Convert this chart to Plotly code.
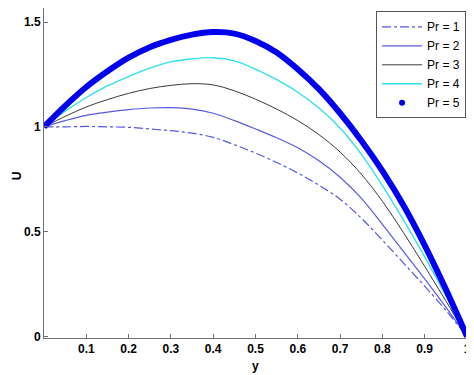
import plotly.graph_objects as go

y_pos = [0.0, 0.05, 0.1, 0.15, 0.2, 0.25, 0.3, 0.35, 0.4, 0.45, 0.5,
         0.55, 0.6, 0.65, 0.7, 0.75, 0.8, 0.85, 0.9, 0.95, 1.0]

u_pr1 = [1.0, 1.0, 1.002, 1.0, 0.998, 0.99, 0.982, 0.97, 0.95, 0.915, 0.875,
         0.83, 0.78, 0.722, 0.655, 0.565, 0.46, 0.35, 0.24, 0.125, 0.0]
u_pr2 = [1.0, 1.03, 1.055, 1.07, 1.082, 1.09, 1.092, 1.085, 1.065, 1.03, 0.99,
         0.948, 0.9, 0.838, 0.76, 0.66, 0.535, 0.405, 0.275, 0.14, 0.0]
u_pr3 = [1.0, 1.05, 1.095, 1.13, 1.16, 1.183, 1.198, 1.206, 1.2, 1.172, 1.132,
         1.085, 1.03, 0.963, 0.88, 0.775, 0.645, 0.495, 0.335, 0.17, 0.0]
u_pr4 = [1.0, 1.075, 1.14, 1.195, 1.24, 1.28, 1.31, 1.325, 1.33, 1.315, 1.275,
         1.225, 1.165, 1.09, 0.995, 0.87, 0.72, 0.555, 0.38, 0.195, 0.0]
u_pr5 = [1.0, 1.10, 1.19, 1.265, 1.33, 1.38, 1.415, 1.44, 1.452, 1.445, 1.41,
         1.355, 1.275, 1.18, 1.065, 0.935, 0.79, 0.625, 0.435, 0.225, 0.0]

series_names = ["Pr = 1", "Pr = 2", "Pr = 3", "Pr = 4", "Pr = 5"]
x_ticks = [0.1, 0.2, 0.3, 0.4, 0.5, 0.6, 0.7, 0.8, 0.9, 1.0]
x_tick_labels = ["0.1", "0.2", "0.3", "0.4", "0.5", "0.6", "0.7", "0.8", "0.9", "1"]
y_ticks = [0, 0.5, 1, 1.5]
y_tick_labels = ["0", "0.5", "1", "1.5"]

FONT = "Liberation Sans, Arial, sans-serif"

fig = go.Figure()
fig.add_trace(go.Scatter(x=y_pos, y=u_pr1, mode="lines", name=series_names[0],
                         line=dict(color="#5555e8", width=1.2, dash="dashdot", shape="spline")))
fig.add_trace(go.Scatter(x=y_pos, y=u_pr2, mode="lines", name=series_names[1],
                         line=dict(color="#5a5ae0", width=1.2, shape="spline")))
fig.add_trace(go.Scatter(x=y_pos, y=u_pr3, mode="lines", name=series_names[2],
                         line=dict(color="#3a3a3a", width=1.0, shape="spline")))
fig.add_trace(go.Scatter(x=y_pos, y=u_pr4, mode="lines", name=series_names[3],
                         line=dict(color="#33e0e8", width=1.4, shape="spline")))
fig.add_trace(go.Scatter(x=y_pos, y=u_pr5, mode="lines", name=series_names[4],
                         showlegend=False, legendgroup="pr5",
                         line=dict(color="#0000ee", width=6, shape="spline")))
# legend entry for Pr = 5 (dot marker style)
fig.add_trace(go.Scatter(x=[None], y=[None], mode="markers", name=series_names[4],
                         legendgroup="pr5",
                         marker=dict(color="#0000ee", size=6)))

# The page body adds an 8px offset, so the figure is 8px smaller on each axis
fig.update_layout(
    width=466, height=367,
    margin=dict(l=36, r=7, t=0, b=37),
    paper_bgcolor="white", plot_bgcolor="white",
    font=dict(family=FONT, size=12, color="black"),
    showlegend=True,
    legend=dict(x=0.785, y=0.99, xanchor="left", yanchor="top",
                bgcolor="white", bordercolor="#555555", borderwidth=1,
                font=dict(family=FONT, size=12, color="black"),
                tracegroupgap=0, itemwidth=40, entrywidth=50),
    annotations=[
        dict(text="<b>U</b>", xref="paper", yref="paper", x=-0.0851, y=0.49,
             xanchor="left", yanchor="middle", showarrow=False, textangle=-90,
             font=dict(family=FONT, size=12, color="black")),
        dict(text="<b>y</b>", xref="paper", yref="paper", x=0.501, y=-0.085,
             xanchor="center", yanchor="middle", showarrow=False,
             font=dict(family=FONT, size=12, color="black")),
    ],
)
fig.update_xaxes(range=[0, 1], tickvals=x_ticks, ticktext=x_tick_labels,
                 automargin=False,
                 showgrid=False, zeroline=False, showline=True,
                 linecolor="#707070", linewidth=1, ticks="inside", ticklen=4,
                 tickcolor="#707070",
                 tickfont=dict(family=FONT, size=12, weight="bold", color="black"))
fig.update_yaxes(range=[-0.007, 1.567], tickvals=y_ticks, ticktext=y_tick_labels,
                 automargin=False,
                 showgrid=False, zeroline=False, showline=True,
                 linecolor="#707070", linewidth=1, ticks="inside", ticklen=4,
                 tickcolor="#707070",
                 tickfont=dict(family=FONT, size=12, weight="bold", color="black"))

fig.write_html("out.html")
